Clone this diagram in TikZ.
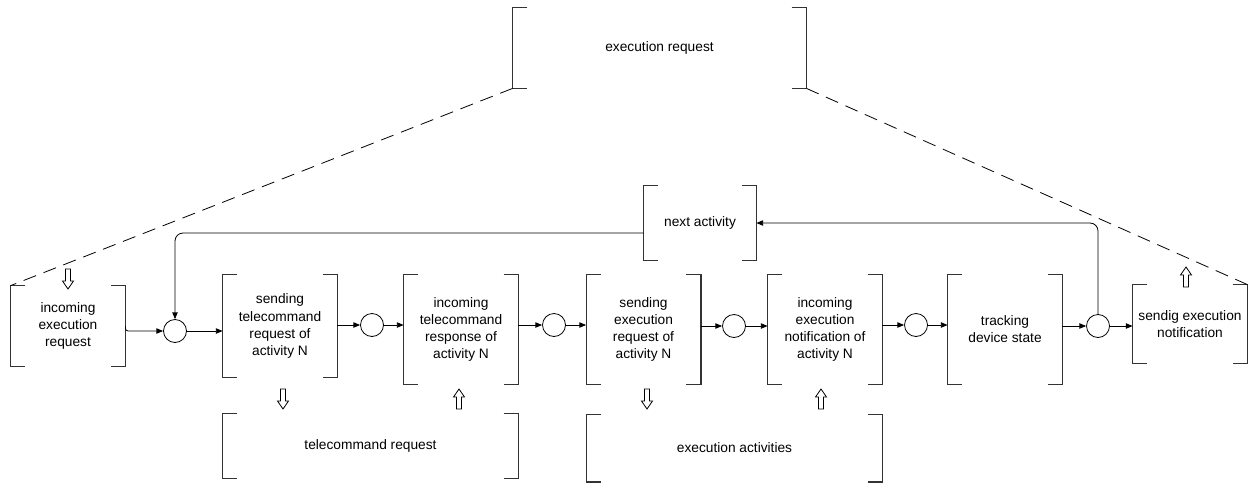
\documentclass[tikz,border=0pt]{standalone}
\usepackage{fontspec}
\setmainfont{Liberation Sans}
\usepackage{tikz}
\usetikzlibrary{positioning, calc}
\usetikzlibrary{arrows.meta}

% square brackets round a node
\newcommand{\brackets}[1]{%
 \draw[brk] ([xshift=\tick]#1.north west) -- (#1.north west) -- (#1.south west) -- ([xshift=\tick]#1.south west);
 \draw[brk] ([xshift=-\tick]#1.north east) -- (#1.north east) -- (#1.south east) -- ([xshift=-\tick]#1.south east);}

\tikzset{hollow/.pic={\draw[line width=0.6pt,fill=white] (-2.5,0) -- (-2.5,12) -- (-5.5,12) -- (0,20) -- (5.5,12) -- (2.5,12) -- (2.5,0) -- cycle;}}

\begin{document}
\begin{tikzpicture}[x=0.75pt,y=-0.75pt,>={Triangle[length=5pt,width=4pt]},line width=0.6pt]
 	\def\tick{11pt}
 	\tikzstyle{box}=[inner sep=0pt,align=center,font=\fontsize{10.3}{12.8}\selectfont]
 	\tikzstyle{act}=[box,minimum width=85.5pt]
 	\tikzstyle{brk}=[draw=black!80,line width=0.9pt]
 	\tikzstyle{junc}=[circle,draw,minimum size=17.25pt,inner sep=0pt]
 	\useasboundingbox (0,0) rectangle (1248,482);

 	% request boxes
 	\node[box,minimum width=219.75pt,minimum height=60pt] (execreq) at (659.5,48) {execution request};
 	\node[act,minimum height=60pt] (inreq) at (68,326) {incoming\\execution\\request};
 	\node[act,minimum height=58.5pt] (sendnot) at (1190,324) {sendig execution\\notification};

 	% activity row
 	\node[act,minimum height=76.5pt] 	(sendtc)	at (280,326)	{sending\\telecommand\\request of\\activity N};
 	\node[act,minimum height=81.75pt] 	(intc)	at (461,329.5)	{incoming\\telecommand\\response of\\activity N};
 	\node[act,minimum height=81.75pt] 	(sendex)	at (643.5,329.5)	{sending\\execution\\request of\\activity N};
 	\node[act,minimum height=81.75pt] 	(inex)	at (825,329.5)	{incoming\\execution\\notification of\\activity N};
 	\node[act,minimum height=81.75pt] 	(track)	at (1005,329.5)	{tracking\\device state};
 	\node[box,minimum width=84pt,minimum height=55.5pt] (next) at (700,223) {next activity};

 	% data boxes
 	\node[box,minimum width=221.25pt,minimum height=48pt] (tcreq) at (370.5,446) {telecommand request};
 	\node[box,minimum width=221.25pt,minimum height=50.25pt] (exact) at (734.5,448) {execution activities};

 	\brackets{execreq}
 	\brackets{inreq}
 	\brackets{sendnot}
 	\brackets{sendtc}
 	\brackets{intc}
 	\brackets{sendex}
 	\brackets{inex}
 	\brackets{track}
 	\brackets{next}
 	\brackets{tcreq}
 	\brackets{exact}

 	% junctions
 	\node[junc] (c1) at (175,331) {};
 	\node[junc] (c2) at (372,325) {};
 	\node[junc] (c3) at (554,325) {};
 	\node[junc] (c4) at (734,326) {};
 	\node[junc] (c5) at (916,325) {};
 	\node[junc] (c6) at (1098,326) {};

 	\draw[->,rounded corners=2pt] (inreq.east) |- (c1);
 	\draw[->] (c1) -- (sendtc.west |- c1);
 	\draw[->] (sendtc.east |- c2) -- (c2);
 	\draw[->] (c2) -- (intc.west |- c2);
 	\draw[->] (intc.east |- c3) -- (c3);
 	\draw[->] (c3) -- (sendex.west |- c3);
 	\draw[->] (sendex.east |- c4) -- (c4);
 	\draw[->] (c4) -- (inex.west |- c4);
 	\draw[->] (inex.east |- c5) -- (c5);
 	\draw[->] (c5) -- (track.west |- c5);
 	\draw[->] (track.east |- c6) -- (c6);
 	\draw[->] (c6) -- (sendnot.west |- c6);

 	% loop back
 	\draw[->,rounded corners=6pt] (c6) |- (next.east);
 	\draw[->,rounded corners=6pt] ([yshift=-7.5pt]next.west) -| (c1);

 	% refinement
 	\draw[dash pattern=on 10pt off 6pt] (execreq.south west) -- (inreq.north west);
 	\draw[dash pattern=on 10pt off 6pt] (execreq.south east) -- (sendnot.north east);

 	% data flow
 	\pic at (68,269) {hollow};
 	\pic[rotate=180] at (1186,287) {hollow};
 	\pic at (283,389) {hollow};
 	\pic[rotate=180] at (459,409) {hollow};
 	\pic at (647,389) {hollow};
 	\pic[rotate=180] at (821,409) {hollow};
 \end{tikzpicture}
\end{document}
